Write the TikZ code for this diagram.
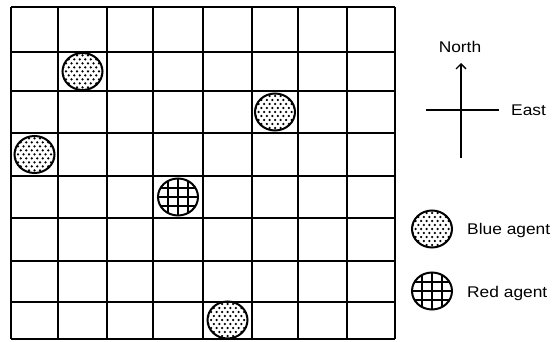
\documentclass[tikz,border=0pt]{standalone}
\usepackage{fontspec}
\newfontfamily\labfont[FakeStretch=1.12]{Liberation Sans}
\usetikzlibrary{shapes.geometric,arrows.meta}
\tikzset{
  gridline/.style={line width=1.6pt,black},
  agentbase/.style={ellipse,draw=black,line width=2pt,minimum width=40pt,minimum height=37pt,inner sep=0pt},
  blueagent/.style={agentbase,path picture={
    \foreach \j in {-5,...,5}{
      \pgfmathsetmacro{\xo}{2.75*mod(abs(\j),2)}
      \foreach \i in {-4,...,4}{
        \fill[black] ([shift={(\i*5.5+\xo,\j*4)}]path picture bounding box.center) circle (1.25pt);
      }
    }}},
  redagent/.style={agentbase,path picture={
    \foreach \d in {-10,0,10}{
      \draw[line width=2.4pt] ([shift={(\d,-30)}]path picture bounding box.center) -- ([shift={(\d,30)}]path picture bounding box.center);
    }
    \foreach \d in {-9,0,9}{
      \draw[line width=2.4pt] ([shift={(-30,\d)}]path picture bounding box.center) -- ([shift={(30,\d)}]path picture bounding box.center);
    }}},
  lab/.style={font=\labfont\fontsize{15.5}{18}\selectfont,text=black,inner sep=0pt},
  compass/.style={line width=1.4pt,black}
}
\begin{document}
\begin{tikzpicture}[x=1pt,y=-1pt]
\useasboundingbox (0,0) rectangle (552,342);
% grid
\foreach \x in {11,58,107,153,203,252,298,347,395}{
  \draw[gridline] (\x,7) -- (\x,339);
}
\foreach \y in {7,52,91,133,176,218,261,302,339}{
  \draw[gridline] (11,\y) -- (395,\y);
}
% agents
\node[blueagent] (b1) at (82.5,71.5) {};
\node[blueagent] (b2) at (275,112) {};
\node[blueagent] (b3) at (34.5,154.5) {};
\node[blueagent] (b4) at (227.5,320) {};
\node[redagent] (r1) at (178,197) {};
% compass
\coordinate (cs) at (461,158);
\coordinate (cn) at (461,63);
\coordinate (cw) at (426,110);
\coordinate (ce) at (499,110);
\draw[compass,-{Straight Barb[length=5pt,width=10pt,line width=1.4pt]}] (cs) -- (cn);
\draw[compass] (cw) -- (ce);
\node[lab] (north) at (460,47) {North};
\node[lab,anchor=west] (east) at (511,110) {East};
% legend
\node[blueagent] (lb) at (432,229) {};
\node[redagent] (lr) at (432,291) {};
\node[lab,anchor=west] (lbt) at (467,230) {Blue agent};
\node[lab,anchor=west] (lrt) at (467,293) {Red agent};
\end{tikzpicture}
\end{document}
